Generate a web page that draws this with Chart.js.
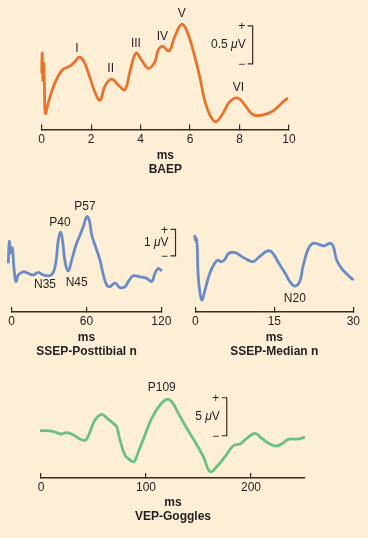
<!DOCTYPE html>
<html>
<head>
<meta charset="utf-8">
<script src="https://cdn.jsdelivr.net/npm/chart.js@4"></script>
<style>
  html, body { margin: 0; padding: 0; background: #fdefd6; }
  body { width: 368px; height: 538px; position: relative; overflow: hidden; }
  canvas { position: absolute; }
</style>
</head>
<body>
<canvas id="baep" width="368" height="180" style="left:0px;top:0px"></canvas>
<canvas id="tibial" width="184" height="170" style="left:0px;top:190px"></canvas>
<canvas id="median" width="184" height="170" style="left:184px;top:190px"></canvas>
<canvas id="vep" width="368" height="158" style="left:0px;top:380px"></canvas>
<script>
// BAEP
const baepMs = [0, 0.02, 0.05, 0.08, 0.11, 0.15, 0.27, 0.47, 0.67, 0.87, 1.14, 1.35, 1.52, 1.71, 1.95, 2.15, 2.36, 2.56, 2.83, 3.1, 3.36, 3.57, 3.81, 4.04, 4.31, 4.58, 4.71, 4.89, 5.15, 5.38, 5.65, 5.85, 6.12, 6.39, 6.59, 6.8, 7.04, 7.33, 7.6, 7.94, 8.21, 8.55, 8.95, 9.35, 9.76, 9.96]
const baepUv = [0.72, 0.98, 0.62, 0.85, 0.55, 0.19, 0.33, 0.54, 0.68, 0.77, 0.81, 0.87, 0.93, 0.87, 0.66, 0.47, 0.36, 0.55, 0.64, 0.56, 0.50, 0.74, 0.98, 0.89, 0.78, 0.87, 1.02, 1.07, 1.01, 1.20, 1.36, 1.29, 1.02, 0.67, 0.36, 0.17, 0.08, 0.19, 0.34, 0.39, 0.30, 0.17, 0.17, 0.22, 0.34, 0.39]
const baepTicks = [0, 2, 4, 6, 8, 10]
const baepPeaks = ['I', 'II', 'III', 'IV', 'V', 'VI']
const baepPeakMs = [1.42, 2.79, 3.81, 4.88, 5.66, 7.95]
const baepPeakUv = [1.045, 0.78, 1.11, 1.20, 1.505, 0.52]

// SSEP posterior tibial
const tibialMs = [-2.7, -1.9, -0.6, 0.5, 1.8, 3.4, 5.3, 9.3, 13.3, 17.3, 21.3, 25.3, 30.2, 33.4, 35.5, 37.4, 39.3, 40.9, 42.8, 45.4, 48.1, 51.6, 54.8, 57.4, 60.2, 62.2, 64.2, 66.8, 70.8, 73.5, 76.2, 78.8, 82.9, 86.9, 90.9, 93.5, 97.5, 102.9, 108.3, 112.3, 114.9, 117.6, 120.3]
const tibialUv = [1.80, 2.62, 2.19, 2.38, 1.62, 1.11, 1.36, 1.48, 1.42, 1.36, 1.46, 1.36, 1.33, 1.46, 1.86, 2.68, 2.97, 2.62, 1.86, 1.51, 1.92, 2.49, 2.87, 3.18, 3.56, 3.43, 2.87, 2.49, 1.92, 1.36, 0.98, 0.92, 1.05, 0.88, 0.92, 1.11, 1.33, 1.29, 1.23, 1.11, 1.42, 1.61, 1.51]
const tibialTicks = [0, 60, 120]
const tibialPeaks = ['P40', 'P57', 'N35', 'N45']
const tibialPeakMs = [38.7, 58.8, 26.7, 52.1]
const tibialPeakUv = [3.35, 3.94, 0.98, 1.08]

// SSEP median
const medianMs = [-0.13, 0, 0.18, 0.37, 0.49, 0.73, 1.23, 1.83, 2.74, 3.66, 4.26, 4.88, 5.49, 6.40, 7.63, 8.83, 10.06, 10.97, 12.2, 13.72, 14.63, 15.86, 17.07, 17.98, 18.9, 19.81, 20.43, 21.35, 22.26, 23.18, 24.38, 25.61, 26.21, 26.83, 27.75, 28.95, 30.0]
const medianUv = [2.86, 2.67, 2.73, 2.35, 1.54, 0.91, 0.40, 0.78, 1.41, 1.79, 1.91, 1.85, 1.91, 2.17, 2.19, 2.04, 1.91, 1.85, 2.04, 2.26, 2.19, 1.79, 1.41, 1.09, 0.93, 1.09, 1.66, 2.29, 2.54, 2.52, 2.45, 2.54, 2.42, 1.91, 1.60, 1.35, 1.16]
const medianTicks = [0, 15, 30]
const medianPeaks = ['N20']
const medianPeakMs = [18.9]
const medianPeakUv = [0.47]

// VEP goggles
const vepMs = [-0.95, 10.2, 16.5, 19.7, 24.5, 30.8, 37.1, 42.6, 46.7, 51.4, 57.8, 63.1, 68.9, 72.1, 75.2, 80.0, 84.8, 88.6, 92.7, 99.0, 105.4, 113.3, 119.7, 124.5, 130.8, 138.8, 146.7, 154.6, 161.0, 167.3, 175.2, 183.1, 189.5, 195.9, 203.8, 210.2, 218.1, 224.5, 230.8, 235.5, 245.0, 251.4]
const vepUv = [5.92, 5.88, 5.58, 5.49, 5.66, 5.36, 4.83, 4.70, 5.79, 7.33, 8.08, 7.55, 6.89, 6.45, 4.70, 2.72, 2.07, 1.84, 3.16, 5.36, 7.55, 9.30, 10.05, 9.74, 8.21, 6.24, 4.47, 2.50, 0.53, 1.18, 2.50, 3.95, 4.17, 4.92, 5.58, 4.92, 4.17, 3.91, 4.34, 4.79, 4.83, 5.09]
const vepTicks = [0, 100, 200]
const vepPeaks = ['P109']
const vepPeakMs = [114.95]
const vepPeakUv = [11.58]

const textColor = '#231f20'
const axisColor = '#3b2a22'
const fontFamily = '"Liberation Sans", Arial, sans-serif'

Chart.defaults.font.family = fontFamily
Chart.defaults.font.size = 12

// peak names and the calibration bracket
const marksPlugin = {
  id: 'marks',
  afterDatasetsDraw(chart, args, opts) {
    const ctx = chart.ctx
    const x = chart.scales.x
    const y = chart.scales.y
    ctx.save()
    ctx.fillStyle = textColor
    ctx.font = '12px ' + fontFamily
    ctx.textAlign = 'center'
    ctx.textBaseline = 'middle'
    opts.names.forEach((name, i) => {
      ctx.fillText(name, x.getPixelForValue(opts.ms[i]), y.getPixelForValue(opts.uv[i]))
    })
    if (opts.bar) {
      const bx = x.getPixelForValue(opts.bar.ms)
      const top = y.getPixelForValue(opts.bar.top)
      const bot = y.getPixelForValue(opts.bar.top - opts.bar.size)
      ctx.strokeStyle = axisColor
      ctx.lineWidth = 1.2
      ctx.beginPath()
      ctx.moveTo(bx - 5, top)
      ctx.lineTo(bx, top)
      ctx.lineTo(bx, bot)
      ctx.lineTo(bx - 5, bot)
      ctx.stroke()
      ctx.fillText('+', bx - 11, top + 1)
      ctx.fillText('\u2212', bx - 11, bot + 1)

      const normal = '12px ' + fontFamily
      const italic = 'italic 12px ' + fontFamily
      const parts = [[opts.bar.size + ' ', normal], ['\u03bc', italic], ['V', normal]]
      let w = 0
      parts.forEach(p => { ctx.font = p[1]; w += ctx.measureText(p[0]).width })
      let tx = bx - 7 - w
      ctx.textAlign = 'left'
      parts.forEach(p => {
        ctx.font = p[1]
        ctx.fillText(p[0], tx, (top + bot) / 2)
        tx += ctx.measureText(p[0]).width
      })
    }
    ctx.restore()
  }
}

function drawPanel(id, p) {
  new Chart(document.getElementById(id), {
    type: 'line',
    data: {
      datasets: [{
        data: p.ms.map((t, i) => ({ x: t, y: p.uv[i] })),
        borderColor: p.color,
        borderWidth: 2.8,
        pointRadius: 0,
        tension: 0.4,
        fill: false,
        clip: false
      }]
    },
    options: {
      responsive: false,
      animation: false,
      events: [],
      layout: { padding: p.pad },
      plugins: {
        legend: { display: false },
        tooltip: { enabled: false },
        marks: { names: p.names, ms: p.peakMs, uv: p.peakUv, bar: p.bar }
      },
      scales: {
        x: {
          type: 'linear',
          bounds: 'data',
          afterDataLimits: s => { s.min = p.range[0]; s.max = p.range[1] },
          afterBuildTicks: s => { s.ticks = p.ticks.map(v => ({ value: v })) },
          afterFit: s => { s.height = p.axisH },
          grid: { drawOnChartArea: false, tickLength: -5, color: axisColor, lineWidth: 1.2 },
          border: { color: axisColor, width: 1.4 },
          ticks: { padding: 8, color: textColor, autoSkip: false, maxRotation: 0, font: { size: 12, lineHeight: '14px' } },
          title: {
            display: true,
            text: ['ms', p.title],
            color: textColor,
            padding: 0,
            font: { size: 12, weight: 'bold', lineHeight: '14px' }
          }
        },
        y: { display: false, min: p.yRange[0], max: p.yRange[1] }
      }
    },
    plugins: [marksPlugin]
  })
}

drawPanel('baep', {
  ms: baepMs, uv: baepUv, ticks: baepTicks, range: [0, 10], yRange: [-0.024, 1.628],
  names: baepPeaks, peakMs: baepPeakMs, peakUv: baepPeakUv,
  bar: { ms: 8.53, top: 1.34, size: 0.5 },
  color: '#e8732d', title: 'BAEP',
  pad: { left: 41.7, right: 79, top: 4, bottom: 3 }, axisH: 47.5
})

drawPanel('tibial', {
  ms: tibialMs, uv: tibialUv, ticks: tibialTicks, range: [0, 120], yRange: [-0.038, 4.34],
  names: tibialPeaks, peakMs: tibialPeakMs, peakUv: tibialPeakUv,
  bar: { ms: 131.4, top: 3.08, size: 1 },
  color: '#6a8bc6', title: 'SSEP-Posttibial n',
  pad: { left: 11.7, right: 22.7, top: 6, bottom: 1.5 }, axisH: 46.5
})

drawPanel('median', {
  ms: medianMs, uv: medianUv, ticks: medianTicks, range: [0, 30], yRange: [-0.049, 4.33],
  names: medianPeaks, peakMs: medianPeakMs, peakUv: medianPeakUv,
  bar: null,
  color: '#6a8bc6', title: 'SSEP-Median n',
  pad: { left: 6, right: 14, top: 6, bottom: 1.5 }, axisH: 46.5
})

drawPanel('vep', {
  ms: vepMs, uv: vepUv, ticks: vepTicks, range: [0, 251.4], yRange: [-0.30, 12.07],
  names: vepPeaks, peakMs: vepPeakMs, peakUv: vepPeakUv,
  bar: { ms: 176.9, top: 10.26, size: 5 },
  color: '#6cc084', title: 'VEP-Goggles',
  pad: { left: 41, right: 63, top: 4, bottom: 14.3 }, axisH: 45.7
})
</script>
</body>
</html>
